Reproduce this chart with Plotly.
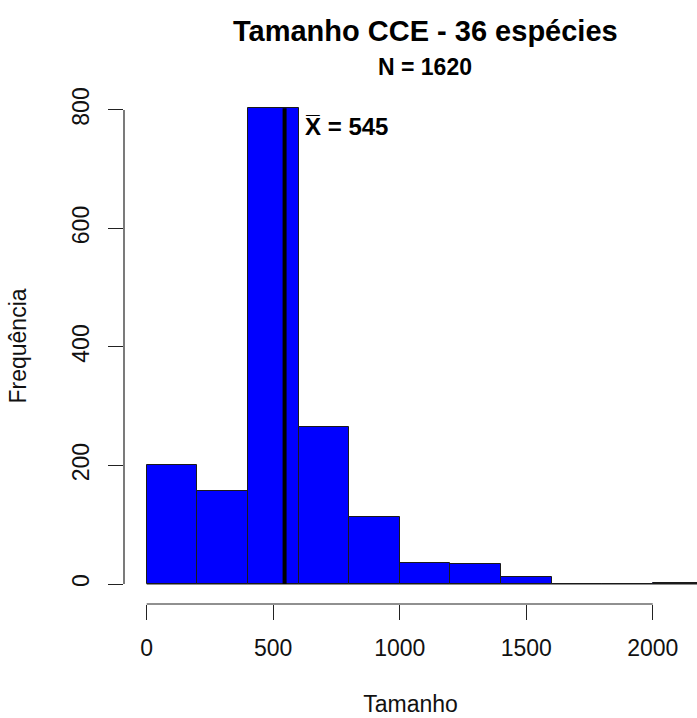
import plotly.graph_objects as go

# ---- data ----
bin_edges = [0, 200, 400, 600, 800, 1000, 1200, 1400, 1600, 1800, 2000, 2200]
counts = [201, 157, 803, 265, 113, 35, 34, 11, 0, 0, 1]
mean_value = 545
n_total = 1620
x_ticks = [0, 500, 1000, 1500, 2000]
y_ticks = [0, 200, 400, 600, 800]
title_text = "Tamanho CCE - 36 espécies"
subtitle_text = f"N = {n_total}"
x_label = "Tamanho"
y_label = "Frequência"

centers = [(a + b) / 2 for a, b in zip(bin_edges[:-1], bin_edges[1:])]
widths = [b - a for a, b in zip(bin_edges[:-1], bin_edges[1:])]

FONT = "Liberation Sans, Arial, Helvetica, sans-serif"
AX = "#222222"

fig = go.Figure()
fig.add_trace(go.Bar(
    x=centers, y=counts, width=widths,
    marker=dict(color="#0000FF", line=dict(color="#1a1a1a", width=1)),
    showlegend=False, hoverinfo="x+y",
))

shapes = [
    # baseline of empty bins (R draws zero-height bars as lines)
    dict(type="line", xref="x", yref="y", x0=bin_edges[0], x1=bin_edges[-1], y0=0, y1=0,
         line=dict(color="#1a1a1a", width=1), layer="below"),
    # mean line
    dict(type="line", xref="x", yref="y", x0=mean_value, x1=mean_value, y0=0, y1=max(counts),
         line=dict(color="#000000", width=4)),
    # R-style axis lines (span first to last tick only)
    dict(type="line", xref="x", yref="paper", x0=x_ticks[0], x1=x_ticks[-1], y0=0, y1=0,
         line=dict(color=AX, width=1.2)),
    dict(type="line", xref="paper", yref="y", x0=0, x1=0, y0=y_ticks[0], y1=y_ticks[-1],
         line=dict(color=AX, width=1.2)),
]

annotations = [
    dict(text=f"<b>{title_text}</b>", xref="x", yref="paper", x=1100, y=1.111,
         xanchor="center", yanchor="middle", showarrow=False,
         font=dict(family=FONT, size=29, color="#000")),
    dict(text=f"<b>{subtitle_text}</b>", xref="x", yref="paper", x=1100, y=1.04,
         xanchor="center", yanchor="middle", showarrow=False,
         font=dict(family=FONT, size=23, color="#000")),
    dict(text=f"<b>X\u0305 = {mean_value}</b>", xref="x", yref="y", x=616, y=772,
         xanchor="left", yanchor="middle", showarrow=False,
         font=dict(family=FONT, size=24, color="#000")),
]

fig.update_layout(
    width=697, height=718,
    margin=dict(l=124, r=0, t=88, b=114, pad=0),
    paper_bgcolor="white", plot_bgcolor="white",
    bargap=0,
    shapes=shapes, annotations=annotations,
    font=dict(family=FONT, color="#000"),
    xaxis=dict(
        range=[-89.7, 2175], tickmode="array", tickvals=x_ticks,
        ticks="outside", ticklen=15, tickwidth=1.2, tickcolor=AX,
        showline=False, showgrid=False, zeroline=False,
        tickfont=dict(size=23, family=FONT, color="#111"),
        ticklabelstandoff=8,
        title=dict(text=x_label, font=dict(size=23, family=FONT, color="#111"), standoff=36),
    ),
    yaxis=dict(
        range=[-33.75, 837], tickmode="array", tickvals=y_ticks,
        ticks="outside", ticklen=15, tickwidth=1.2, tickcolor=AX,
        showline=False, showgrid=False, zeroline=False, tickangle=-90,
        tickfont=dict(size=23, family=FONT, color="#111"),
        ticklabelstandoff=10,
        title=dict(text=y_label, font=dict(size=23, family=FONT, color="#111"), standoff=34),
    ),
)

fig.write_html("out.html")
